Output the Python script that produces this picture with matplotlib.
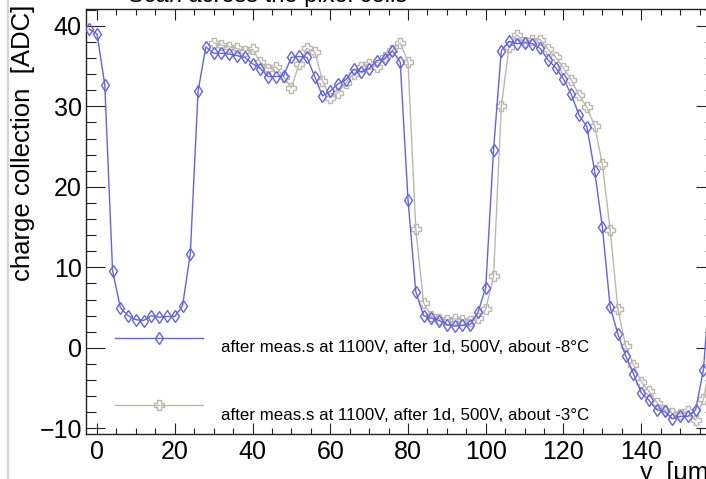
import matplotlib
matplotlib.use("Agg")
import matplotlib.pyplot as plt
from matplotlib.lines import Line2D
from matplotlib.ticker import MultipleLocator

plt.rcParams['font.family'] = ['Liberation Sans', 'DejaVu Sans']

# ---- data ----
x_blue = list(range(-2, 160, 2))
y_blue = [39.6, 39.0, 32.7, 9.6, 5.0, 4.0, 3.5, 3.4, 4.0, 3.8,
          3.9, 3.9, 5.2, 11.7, 31.9, 37.4, 36.6, 36.6, 36.5, 36.3,
          36.1,
          35.3, 34.7, 33.7, 33.7, 33.8, 36.1, 36.2, 36.1, 33.7, 31.3,
          31.9, 32.8, 33.3, 34.6, 34.3, 34.7, 35.7, 35.9, 36.9, 35.5,
          18.4, 7.0, 4.0, 3.7, 3.4, 2.9, 2.7, 2.8, 2.9, 4.4,
          7.5, 24.6, 36.9, 38.1, 37.8, 37.9, 37.8, 37.2, 35.8, 34.8,
          33.4, 31.5, 28.9, 27.5, 22.0, 15.0, 5.1, 1.7, -1.0, -3.2,
          -5.6, -6.5, -7.7, -7.9, -8.8, -8.5, -8.5, -7.7, -2.7, 10.0]

x_gray = list(range(30, 160, 2))
y_gray = [37.9, 37.6, 37.4, 37.2, 36.9,
          37.1, 35.5, 34.7, 34.9, 33.7, 32.3, 35.3, 37.2, 36.8, 33.2,
          31.1, 31.7, 32.9, 34.0, 34.9, 35.3, 34.9, 36.1, 37.0, 37.9,
          35.5, 14.8, 5.6, 3.9, 3.6, 3.5, 3.6, 3.5, 3.3, 3.7,
          4.8, 8.9, 30.0, 37.4, 38.9, 38.0, 38.3, 38.3, 37.1, 36.1,
          34.8, 33.3, 31.4, 29.9, 27.6, 22.8, 14.7, 4.8, 0.2, -2.1,
          -4.2, -5.4, -6.8, -7.7, -8.1, -8.2, -7.9, -9.0, -6.4, -1.0]

labels = ["after meas.s at 1100V, after 1d, 500V, about -8\u00b0C",
          "after meas.s at 1100V, after 1d, 500V, about -3\u00b0C"]
title = "Scan across the pixel cells"
ylabel = "charge collection  [ADC]"
xlabel = "y  [\u03bcm]"

BLUE = '#6464da'
GRAY = '#bdb8af'

W, H = 706, 479
fig = plt.figure(figsize=(W / 100, H / 100), dpi=100)
ax = fig.add_axes([86 / W, 1 - 434 / H, 629.5 / W, 425 / H])

ax.plot(x_gray, y_gray, color=GRAY, lw=1.0, marker='P', ms=7.5,
        mfc='none', mec=GRAY, mew=1.0, zorder=3)
ax.plot(x_blue, y_blue, color=BLUE, lw=1.0, marker='d', ms=6.5,
        mfc='none', mec=BLUE, mew=1.0, zorder=4)

ax.set_xlim(-2.83, 159.1)
ax.set_ylim(-10.7, 42.1)

ax.xaxis.set_major_locator(MultipleLocator(20))
ax.xaxis.set_minor_locator(MultipleLocator(5))
ax.yaxis.set_major_locator(MultipleLocator(10))
ax.yaxis.set_minor_locator(MultipleLocator(2))

for s in ax.spines.values():
    s.set_linewidth(1.0)
    s.set_color('#222222')

ax.tick_params(axis='x', which='major', direction='in', length=8, width=0.8,
               top=True, bottom=True, labelsize=18, pad=4, color='#222222')
ax.tick_params(axis='x', which='minor', direction='in', length=4, width=0.8,
               top=True, bottom=True, color='#222222')
ax.tick_params(axis='y', which='major', direction='in', length=13.7, width=0.8,
               left=True, right=True, labelsize=18, pad=3, color='#222222')
ax.tick_params(axis='y', which='minor', direction='in', length=7.2, width=0.8,
               left=True, right=True, color='#222222')

# axis titles (ROOT style: aligned to the axis end)
fig.text(23 / W, 1 - 5 / H, ylabel, rotation=90, ha='center', va='top',
         fontsize=18.5)
fig.text(715 / W, 1 - 461 / H, xlabel, ha='right', va='top', fontsize=18)

# title (mostly outside the canvas)
fig.text(268 / W, 1 - 1.6 / H, title, ha='center', va='baseline', fontsize=17)

# legend drawn by hand
for i, (col, mk, ms) in enumerate([(BLUE, 'd', 6.5), (GRAY, 'P', 7.5)]):
    yy = 1 - (338 + 67 * i) / H
    fig.add_artist(Line2D([115 / W, 203 / W], [yy, yy], color=col, lw=1.0,
                          transform=fig.transFigure))
    fig.add_artist(Line2D([159 / W], [yy], color=col, marker=mk, ms=ms,
                          mfc='none', mec=col, mew=1.0, lw=0,
                          transform=fig.transFigure))
    fig.text(221 / W, 1 - (348 + 67 * i) / H, labels[i], ha='left',
             va='center', fontsize=12.2)

# pad border
fig.add_artist(Line2D([8 / W, 8 / W], [0, 1], color='#d4d4d4', lw=1.5,
                      transform=fig.transFigure))

fig.savefig('out.png', dpi=100)
